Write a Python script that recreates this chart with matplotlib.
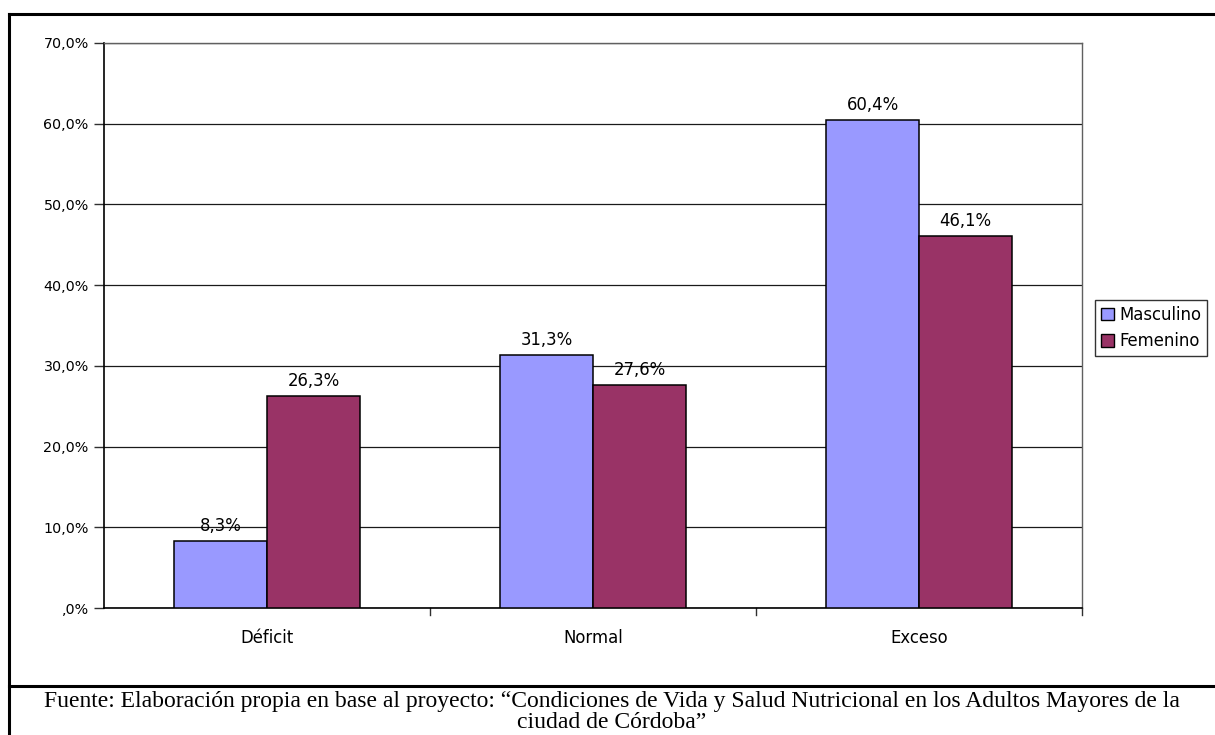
import matplotlib
matplotlib.use("Agg")
import matplotlib.pyplot as plt
from matplotlib.lines import Line2D
import numpy as np

categories = ["Déficit", "Normal", "Exceso"]
series_names = ["Masculino", "Femenino"]
masculino = [8.3, 31.3, 60.4]
femenino = [26.3, 27.6, 46.1]
yticks = [0, 10, 20, 30, 40, 50, 60, 70]
colors = ["#9999FF", "#993366"]
caption_lines = [
    "Fuente: Elaboración propia en base al proyecto: \u201cCondiciones de Vida y Salud Nutricional en los Adultos Mayores de la",
    "ciudad de Córdoba\u201d",
]

W, H = 1215, 735
fig = plt.figure(figsize=(W / 100, H / 100), dpi=100)
fig.patch.set_facecolor("white")

def fx(px):
    return px / W

def fy(py):
    return 1 - py / H

# plot area in pixel coordinates
left, right, top, bottom = 104, 1082, 43, 608
ax = fig.add_axes([fx(left), fy(bottom), fx(right - left), (bottom - top) / H])

sans = "DejaVu Sans"
serif = "Liberation Serif"
label_size = 11.9
tick_size = 10.3

x = np.arange(len(categories))
bw = 0.285
series = [masculino, femenino]
for i, (vals, col, name) in enumerate(zip(series, colors, series_names)):
    pos = x + (i - 0.5) * bw
    ax.bar(pos, vals, width=bw, color=col, edgecolor="black", linewidth=1.1,
           label=name, zorder=3)
    for p, v in zip(pos, vals):
        ax.text(p, v + 0.75, f"{v:.1f}".replace(".", ",") + "%", ha="center",
                va="bottom", fontsize=label_size, family=sans, zorder=4)

ax.set_xlim(-0.5, len(categories) - 0.5)
ax.set_ylim(0, 70)
ax.set_yticks(yticks)
ax.set_yticklabels([(f"{t:.1f}".replace(".", ",").lstrip("0")) + "%" for t in yticks],
                   fontsize=tick_size, family=sans)
ax.yaxis.grid(True, color="#1a1a1a", linewidth=0.9, zorder=0)
ax.tick_params(axis="y", length=7, width=1, color="#303030", pad=4)

# category labels, ticks on group boundaries
ax.set_xticks(x)
ax.set_xticklabels(categories, fontsize=label_size, family=sans)
ax.tick_params(axis="x", length=0, pad=15)
for b in np.arange(0.5, len(categories) - 0.5 + 0.01, 1.0):
    ax.add_line(Line2D([b, b], [0, -0.012], transform=ax.get_xaxis_transform(),
                       color="#303030", linewidth=1.0, clip_on=False))

for s in ["left", "bottom"]:
    ax.spines[s].set_color("black")
    ax.spines[s].set_linewidth(1.2)
for s in ["right", "top"]:
    ax.spines[s].set_color("#606060")
    ax.spines[s].set_linewidth(1.0)

leg = fig.legend(loc="upper left", bbox_to_anchor=(fx(1095), fy(300)),
                 prop={"family": sans, "size": label_size}, frameon=True,
                 fancybox=False, edgecolor="black", handlelength=0.8,
                 handleheight=0.8, handletextpad=0.3, borderpad=0.35,
                 labelspacing=0.5, borderaxespad=0)
leg.get_frame().set_linewidth(1.0)
for h in leg.legend_handles:
    h.set_edgecolor("black")
    h.set_linewidth(1.0)

# table cell borders around the chart and the caption
border_kw = dict(color="black", linewidth=2.2, transform=fig.transFigure)
fig.add_artist(Line2D([fx(9), fx(9)], [fy(14), 0], **border_kw))
fig.add_artist(Line2D([fx(9), fx(1214)], [fy(14), fy(14)], **border_kw))
fig.add_artist(Line2D([fx(9), fx(1215)], [fy(686), fy(686)], **border_kw))

for line, base in zip(caption_lines, [707, 728]):
    fig.text(fx(612), fy(base), line, ha="center", va="baseline", family=serif,
             fontsize=17.0)

fig.savefig("out.png", dpi=100, facecolor="white")
